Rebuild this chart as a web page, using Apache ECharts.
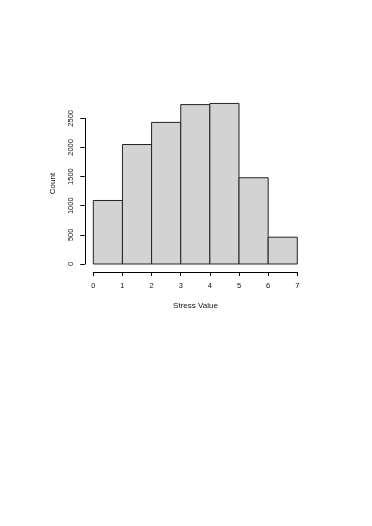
<!DOCTYPE html>
<html><head><meta charset="utf-8">
<script src="https://cdn.jsdelivr.net/npm/echarts@6/dist/echarts.min.js"></script>
<style>html,body{margin:0;padding:0;background:#fff}#c{width:372px;height:526px}</style>
</head><body><div id="c"></div>
<script>
var binStart = [0, 1, 2, 3, 4, 5, 6];
var binEnd   = [1, 2, 3, 4, 5, 6, 7];
var counts   = [1090, 2050, 2430, 2735, 2755, 1480, 460];
var xTicks = [0, 1, 2, 3, 4, 5, 6, 7];
var yTicks = [0, 500, 1000, 1500, 2000, 2500];
var xTitle = 'Stress Value', yTitle = 'Count';

var data = binStart.map(function (s, i) { return [s, binEnd[i], counts[i]]; });
var font = 'Liberation Sans, Arial, Helvetica, sans-serif';
var chart = echarts.init(document.getElementById('c'));
chart.setOption({
  animation: false,
  backgroundColor: '#fff',
  grid: { left: 93.3, right: 74.7, top: 118.3, bottom: 262 },
  xAxis: {
    type: 'value', min: xTicks[0], max: xTicks[xTicks.length - 1], interval: 1,
    offset: 8,
    axisLine: { show: true, onZero: false, lineStyle: { color: '#000', width: 1 } },
    axisTick: { show: true, length: 4, lineStyle: { color: '#000' } },
    axisLabel: { fontFamily: font, fontSize: 7.5, color: '#111', margin: 10 },
    splitLine: { show: false }
  },
  yAxis: {
    type: 'value', min: yTicks[0], max: yTicks[yTicks.length - 1], interval: 500,
    offset: 8.5,
    axisLine: { show: true, onZero: false, lineStyle: { color: '#000', width: 1 } },
    axisTick: { show: true, length: 4.5, lineStyle: { color: '#000' } },
    axisLabel: { fontFamily: font, fontSize: 7.5, color: '#111', margin: 10, rotate: 90,
      formatter: function (v) { return String(v); } },
    splitLine: { show: false }
  },
  graphic: [
    { type: 'text', x: 195.5, y: 305.5, style: { text: xTitle, fontFamily: font, fontSize: 8, fill: '#111', align: 'center', verticalAlign: 'middle' } },
    { type: 'text', x: 52.3, y: 183.5, rotation: Math.PI / 2, style: { text: yTitle, fontFamily: font, fontSize: 8, fill: '#111', align: 'center', verticalAlign: 'middle' } }
  ],
  series: [{
    type: 'custom',
    clip: false,
    data: data,
    encode: { x: [0, 1], y: 2 },
    renderItem: function (params, api) {
      var p0 = api.coord([api.value(0), 0]);
      var p1 = api.coord([api.value(1), api.value(2)]);
      return {
        type: 'rect',
        shape: { x: p0[0], y: p1[1], width: p1[0] - p0[0], height: p0[1] - p1[1] },
        style: { fill: '#d3d3d3', stroke: '#222', lineWidth: 1 }
      };
    }
  }]
});
</script></body></html>
